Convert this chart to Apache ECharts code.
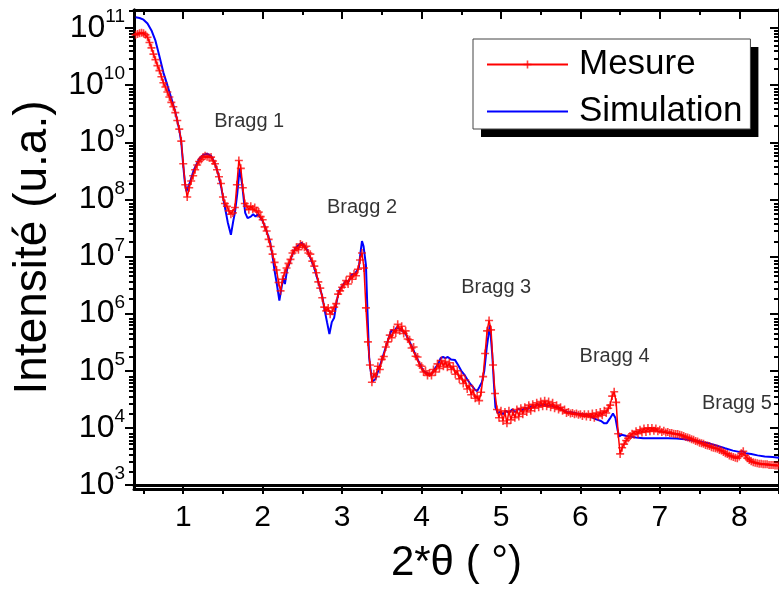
<!DOCTYPE html>
<html><head><meta charset="utf-8">
<script src="https://cdn.jsdelivr.net/npm/echarts@6/dist/echarts.min.js"></script>
<style>html,body{margin:0;padding:0;background:#fff}#c{width:779px;height:589px}</style>
</head><body><div id="c"></div>
<script>
// 2*theta (deg), intensity (a.u.) — measured
const measurement = [
[0.400,7.6e10],[0.425,7.9e10],[0.450,8.1e10],[0.475,8.3e10],[0.500,8.1e10],[0.525,7.6e10],[0.550,6.9e10],[0.575,5.6e10],[0.600,4.5e10],[0.625,3.5e10],[0.650,2.8e10],[0.675,2.2e10],[0.700,1.8e10],[0.725,1.4e10],[0.750,1.1e10],[0.775,9.3e9],[0.800,7.6e9],[0.825,6.2e9],[0.850,5.0e9],[0.875,4.2e9],[0.900,3.3e9],[0.925,2.4e9],[0.950,1.7e9],[0.975,1.05e9],
[1.000,4.2e8],[1.025,1.8e8],[1.050,1.1e8],[1.075,1.6e8],[1.100,2.1e8],[1.125,2.6e8],[1.150,3.3e8],[1.175,4.0e8],[1.200,4.6e8],[1.225,5.0e8],[1.250,5.5e8],[1.275,5.8e8],[1.300,5.6e8],[1.325,5.4e8],[1.350,5.5e8],[1.375,4.7e8],[1.400,4.2e8],[1.425,3.3e8],[1.450,2.5e8],[1.475,1.9e8],[1.500,1.1e8],[1.525,8.5e7],[1.550,7.6e7],[1.575,6.3e7],[1.600,5.5e7],[1.625,5.8e7],[1.650,7.2e7],[1.675,1.8e8],[1.700,4.8e8],[1.725,3.5e8],[1.750,1.6e8],[1.775,8.5e7],[1.800,7.6e7],[1.825,6.6e7],[1.850,7.6e7],[1.875,6.8e7],[1.900,7.2e7],[1.925,6.3e7],[1.950,6.0e7],[1.975,5.0e7],
[2.000,4.4e7],[2.025,3.3e7],[2.050,2.8e7],[2.075,2.0e7],[2.100,1.5e7],[2.125,1.1e7],[2.150,7.9e6],[2.175,5.8e6],[2.200,3.5e6],[2.225,2.5e6],[2.250,4.0e6],[2.275,5.2e6],[2.300,6.3e6],[2.325,7.6e6],[2.350,8.9e6],[2.375,1.15e7],[2.400,1.26e7],[2.425,1.45e7],[2.450,1.32e7],[2.475,1.66e7],[2.500,1.58e7],[2.525,1.45e7],[2.550,1.51e7],[2.575,1.15e7],[2.600,1.1e7],[2.625,8.3e6],[2.650,6.8e6],[2.675,5.2e6],[2.700,3.6e6],[2.725,2.8e6],[2.750,1.9e6],[2.775,1.3e6],[2.800,1.12e6],[2.825,1.26e6],[2.850,9.8e5],[2.875,1.1e6],[2.900,1.3e6],[2.925,1.5e6],[2.950,2.2e6],[2.975,2.5e6],
[3.000,2.9e6],[3.025,3.2e6],[3.050,3.8e6],[3.075,3.3e6],[3.100,4.5e6],[3.125,4.0e6],[3.150,5.0e6],[3.175,4.6e6],[3.200,6.0e6],[3.225,8.7e6],[3.250,1.15e7],[3.275,6.3e6],[3.300,1.26e6],[3.325,3.2e5],[3.350,1.26e5],[3.375,6.3e4],[3.400,8.9e4],[3.425,7.9e4],[3.450,1.2e5],[3.475,1.05e5],[3.500,1.58e5],[3.525,1.78e5],[3.550,2.6e5],[3.575,3.2e5],[3.600,4.2e5],[3.625,3.8e5],[3.650,5.2e5],[3.675,4.6e5],[3.700,6.5e5],[3.725,5.0e5],[3.750,6.0e5],[3.775,4.5e5],[3.800,5.0e5],[3.825,3.6e5],[3.850,3.5e5],[3.875,2.5e5],[3.900,2.6e5],[3.925,1.8e5],[3.950,1.74e5],[3.975,1.26e5],
[4.000,1.2e5],[4.025,9.5e4],[4.050,1.0e5],[4.075,8.3e4],[4.100,9.1e4],[4.125,8.3e4],[4.150,1.05e5],[4.175,9.5e4],[4.200,1.32e5],[4.225,1.1e5],[4.250,1.51e5],[4.275,1.2e5],[4.300,1.45e5],[4.325,1.15e5],[4.350,1.38e5],[4.375,1.05e5],[4.400,1.2e5],[4.425,8.7e4],[4.450,1.0e5],[4.475,7.2e4],[4.500,8.3e4],[4.525,6.0e4],[4.550,6.9e4],[4.575,4.8e4],[4.600,5.5e4],[4.625,3.8e4],[4.650,4.6e4],[4.675,3.3e4],[4.700,3.6e4],[4.725,3.0e4],[4.750,4.2e4],[4.775,7.9e4],[4.800,2.0e5],[4.825,5.0e5],[4.850,7.6e5],[4.875,5.2e5],[4.900,1.26e5],[4.925,4.0e4],[4.950,2.1e4],[4.975,1.5e4],
[5.000,2.0e4],[5.025,1.32e4],[5.050,1.9e4],[5.075,1.2e4],[5.100,2.0e4],[5.125,1.38e4],[5.150,1.9e4],[5.175,1.5e4],[5.200,2.1e4],[5.225,1.58e4],[5.250,2.2e4],[5.275,1.74e4],[5.300,2.3e4],[5.325,1.9e4],[5.350,2.5e4],[5.375,2.0e4],[5.400,2.6e4],[5.425,2.2e4],[5.450,2.75e4],[5.475,2.3e4],[5.500,2.9e4],[5.525,2.4e4],[5.550,3.0e4],[5.575,2.4e4],[5.600,2.9e4],[5.625,2.3e4],[5.650,2.75e4],[5.675,2.2e4],[5.700,2.5e4],[5.725,2.1e4],[5.750,2.3e4],[5.775,2.0e4],[5.800,2.1e4],[5.825,1.82e4],[5.850,1.9e4],[5.875,1.78e4],[5.900,1.82e4],[5.925,1.74e4],[5.950,1.78e4],[5.975,1.7e4],
[6.000,1.74e4],[6.025,1.62e4],[6.050,1.74e4],[6.075,1.58e4],[6.100,1.74e4],[6.125,1.55e4],[6.150,1.78e4],[6.175,1.51e4],[6.200,1.82e4],[6.225,1.58e4],[6.250,1.9e4],[6.275,1.66e4],[6.300,2.0e4],[6.325,1.82e4],[6.350,2.2e4],[6.375,2.5e4],[6.400,3.6e4],[6.425,4.3e4],[6.450,2.8e4],[6.475,7.9e3],[6.500,3.5e3],[6.525,4.5e3],[6.550,5.2e3],[6.575,6.0e3],[6.600,6.6e3],[6.625,7.2e3],[6.650,7.9e3],[6.675,7.6e3],[6.700,8.7e3],[6.725,7.9e3],[6.750,9.3e3],[6.775,8.3e3],[6.800,9.8e3],[6.825,8.5e3],[6.850,1.0e4],[6.875,8.7e3],[6.900,1.0e4],[6.925,8.9e3],[6.950,9.8e3],[6.975,8.7e3],
[7.000,9.3e3],[7.025,8.5e3],[7.050,8.9e3],[7.075,8.3e3],[7.100,8.5e3],[7.125,8.1e3],[7.150,8.1e3],[7.175,7.9e3],[7.200,7.8e3],[7.225,7.8e3],[7.250,7.6e3],[7.275,7.4e3],[7.300,7.2e3],[7.325,6.9e3],[7.350,6.8e3],[7.375,6.6e3],[7.400,6.3e3],[7.425,6.2e3],[7.450,5.9e3],[7.475,5.75e3],[7.500,5.5e3],[7.525,5.4e3],[7.550,5.25e3],[7.575,5.0e3],[7.600,4.9e3],[7.625,4.8e3],[7.650,4.6e3],[7.675,4.5e3],[7.700,4.4e3],[7.725,4.3e3],[7.750,4.1e3],[7.775,4.0e3],[7.800,3.8e3],[7.825,3.6e3],[7.850,3.5e3],[7.875,3.3e3],[7.900,3.2e3],[7.925,3.1e3],[7.950,3.0e3],[7.975,2.95e3],
[8.000,3.16e3],[8.025,3.6e3],[8.050,3.9e3],[8.075,3.3e3],[8.100,2.95e3],[8.125,2.75e3],[8.150,2.6e3],[8.175,2.5e3],[8.200,2.45e3],[8.225,2.4e3],[8.250,2.35e3],[8.275,2.35e3],[8.300,2.3e3],[8.325,2.3e3],[8.350,2.3e3],[8.375,2.25e3],[8.400,2.25e3],[8.425,2.25e3],[8.450,2.2e3],[8.475,2.2e3],[8.500,2.2e3]
];

// 2*theta (deg), intensity (a.u.) — simulated
const simulation = [
[0.40,1.55e11],[0.45,1.5e11],[0.50,1.4e11],[0.55,1.2e11],[0.60,9.1e10],[0.65,6.0e10],[0.70,3.2e10],[0.75,1.66e10],[0.80,1.0e10],[0.85,5.9e9],[0.90,3.4e9],[0.95,1.66e9],[0.975,1.0e9],
[1.00,3.9e8],[1.02,2.0e8],[1.04,1.38e8],[1.08,1.9e8],[1.13,3.2e8],[1.20,5.1e8],[1.25,6.0e8],[1.30,6.3e8],[1.35,5.8e8],[1.40,4.2e8],[1.44,2.8e8],[1.48,1.58e8],[1.52,7.9e7],[1.56,4.0e7],[1.60,2.4e7],[1.63,4.2e7],[1.65,5.8e7],[1.68,1.26e8],[1.71,3.5e8],[1.74,1.9e8],[1.78,5.8e7],[1.81,4.7e7],[1.85,5.0e7],[1.88,5.5e7],[1.91,5.0e7],[1.94,5.5e7],
[2.00,4.2e7],[2.05,2.75e7],[2.09,1.86e7],[2.12,1.12e7],[2.15,5.6e6],[2.18,3.2e6],[2.21,1.7e6],[2.24,3.0e6],[2.26,4.2e6],[2.28,3.3e6],[2.31,6.3e6],[2.33,7.1e6],[2.37,1.05e7],[2.41,1.4e7],[2.45,1.58e7],[2.49,1.74e7],[2.53,1.51e7],[2.56,1.3e7],[2.60,9.5e6],[2.65,6.3e6],[2.71,3.2e6],[2.75,2.0e6],[2.78,1.15e6],[2.81,7.1e5],[2.84,4.4e5],[2.87,7.1e5],[2.90,8.5e5],[2.93,1.58e6],[2.96,2.5e6],
[3.00,3.0e6],[3.05,3.8e6],[3.08,3.6e6],[3.12,4.8e6],[3.16,5.0e6],[3.21,6.3e6],[3.23,1.12e7],[3.25,1.86e7],[3.27,1.51e7],[3.30,7.1e6],[3.32,1.0e6],[3.34,1.74e5],[3.36,1.0e5],[3.38,6.5e4],[3.42,7.2e4],[3.46,1.05e5],[3.50,1.55e5],[3.55,2.6e5],[3.58,3.5e5],[3.62,5.1e5],[3.66,5.0e5],[3.69,5.8e5],[3.74,5.2e5],[3.80,4.4e5],[3.86,3.0e5],[3.92,1.95e5],[3.97,1.38e5],
[4.02,1.0e5],[4.07,9.1e4],[4.12,8.5e4],[4.17,1.1e5],[4.21,1.32e5],[4.24,1.66e5],[4.27,1.74e5],[4.30,1.66e5],[4.33,1.74e5],[4.37,1.58e5],[4.42,1.55e5],[4.46,1.26e5],[4.50,1.0e5],[4.54,8.5e4],[4.58,6.9e4],[4.62,5.75e4],[4.67,4.7e4],[4.70,4.4e4],[4.73,5.25e4],[4.76,6.3e4],[4.79,1.0e5],[4.82,2.5e5],[4.86,6.3e5],[4.89,1.95e5],[4.91,6.3e4],[4.93,2.3e4],[4.96,1.82e4],[4.99,1.9e4],
[5.03,1.74e4],[5.06,2.0e4],[5.10,1.82e4],[5.14,2.1e4],[5.18,1.9e4],[5.22,2.15e4],[5.26,2.0e4],[5.30,2.25e4],[5.34,2.15e4],[5.38,2.4e4],[5.42,2.3e4],[5.46,2.6e4],[5.50,2.45e4],[5.54,2.6e4],[5.58,2.4e4],[5.62,2.5e4],[5.67,2.35e4],[5.72,2.3e4],[5.78,2.05e4],[5.83,1.9e4],[5.90,1.86e4],[5.96,1.78e4],
[6.02,1.74e4],[6.08,1.7e4],[6.14,1.55e4],[6.20,1.41e4],[6.26,1.32e4],[6.30,1.2e4],[6.33,1.2e4],[6.37,1.45e4],[6.41,1.78e4],[6.44,1.51e4],[6.47,8.9e3],[6.49,7.1e3],[6.52,7.6e3],[6.54,7.8e3],[6.58,7.2e3],[6.61,7.1e3],[6.70,6.8e3],[6.79,6.6e3],[6.90,6.6e3],
[7.00,6.6e3],[7.10,6.6e3],[7.21,6.5e3],[7.31,6.3e3],[7.41,6.0e3],[7.51,5.75e3],[7.61,5.4e3],[7.71,4.9e3],[7.82,4.4e3],[7.92,4.0e3],[8.00,3.8e3],[8.04,3.9e3],[8.08,3.6e3],[8.15,3.5e3],[8.23,3.3e3],[8.32,3.16e3],[8.42,3.1e3],[8.50,3.0e3]
];

const seriesNames = ['Mesure', 'Simulation'];
const xMajorTicks = [1, 2, 3, 4, 5, 6, 7, 8];
const xMinorTicks = [0.5, 1.5, 2.5, 3.5, 4.5, 5.5, 6.5, 7.5, 8.5];
const yMajorTicks = [1e3, 1e4, 1e5, 1e6, 1e7, 1e8, 1e9, 1e10, 1e11];
const yMinorMultipliers = [2, 3, 4, 5, 6, 7, 8, 9];
const braggAnnotations = [
  { text: 'Bragg 1', x: 1.83, y: 2.3e9 },
  { text: 'Bragg 2', x: 3.25, y: 7.2e7 },
  { text: 'Bragg 3', x: 4.94, y: 2.85e6 },
  { text: 'Bragg 4', x: 6.43, y: 1.8e5 },
  { text: 'Bragg 5', x: 7.97, y: 2.65e4 }
];

const X_MIN = 0.38, X_MAX = 8.5, Y_MIN = 1e3, Y_MAX = 2.07e11;
const FONT = '"Liberation Sans", Arial, sans-serif';
const yMinorTicks = [];
yMajorTicks.forEach(function (m) { yMinorMultipliers.forEach(function (k) { if (m * k < Y_MAX) yMinorTicks.push(m * k); }); });

const plusPath = 'path://M4,0H6V4H10V6H6V10H4V6H0V4H4Z';
const lineStyleAxis = { color: '#000', width: 3 };

function xAxisDef(grid, pos, ticks, len, inside, labels) {
  return {
    type: 'value', gridIndex: grid, position: pos, min: X_MIN, max: X_MAX,
    axisLine: { show: true, onZero: false, lineStyle: lineStyleAxis },
    axisTick: { show: true, inside: inside, length: len, customValues: ticks, lineStyle: { color: '#000', width: 2 } },
    axisLabel: labels ? { show: true, customValues: ticks, margin: 18, color: '#000', fontSize: 30, fontFamily: FONT } : { show: false },
    splitLine: { show: false }, minorTick: { show: false }
  };
}
function yAxisDef(grid, pos, ticks, len, inside, labels) {
  return {
    type: 'log', logBase: 10, gridIndex: grid, position: pos, min: Y_MIN, max: Y_MAX,
    axisLine: { show: true, onZero: false, lineStyle: lineStyleAxis },
    axisTick: { show: true, inside: inside, length: len, customValues: ticks, lineStyle: { color: '#000', width: 2 } },
    axisLabel: labels ? {
      show: true, customValues: ticks, margin: 9, color: '#000', fontFamily: FONT,
      formatter: function (v) { return '{b|10}{s|' + Math.round(Math.log10(v)) + '}'; },
      rich: { b: { fontSize: 32, fontFamily: FONT, color: '#000' }, s: { fontSize: 19, fontFamily: FONT, color: '#000', padding: [0, 0, 22, 0] } }
    } : { show: false },
    splitLine: { show: false }, minorTick: { show: false }
  };
}

const chart = echarts.init(document.getElementById('c'), null, { renderer: 'canvas' });
const xMain = xAxisDef(0, 'bottom', xMajorTicks, 9, false, true);
xMain.name = '2*\u03b8 ( \u00b0)';
xMain.nameLocation = 'middle';
xMain.nameGap = 57;
xMain.nameTextStyle = { fontSize: 42, color: '#000', fontFamily: FONT };
const yMain = yAxisDef(0, 'left', yMajorTicks, 9, false, true);
yMain.name = 'Intensit\u00e9 (u.a.)';
yMain.nameLocation = 'middle';
yMain.nameGap = 78;
yMain.nameTextStyle = { fontSize: 46, color: '#000', fontFamily: FONT };

const legendLayout = {
  orient: 'vertical', left: 473, top: 39,
  padding: [8, 8, 0, 13], itemGap: 12, itemWidth: 81, itemHeight: 10,
  borderRadius: 0, selectedMode: false
};
const legendText = { fontSize: 35, fontFamily: FONT, padding: [0, 0, 0, 6] };

chart.setOption({
  animation: false,
  backgroundColor: '#fff',
  grid: [
    { left: 134, top: 10, width: 650, height: 479, containLabel: false },
    { left: 134, top: 10, width: 650, height: 479, containLabel: false }
  ],
  legend: [
    Object.assign({}, legendLayout, {
      data: seriesNames, z: 5,
      backgroundColor: '#fff', borderWidth: 0,
      shadowColor: '#000', shadowBlur: 0, shadowOffsetX: 8, shadowOffsetY: 8,
      itemStyle: { opacity: 0 }, lineStyle: { opacity: 0 },
      textStyle: Object.assign({ color: 'rgba(0,0,0,0)' }, legendText)
    }),
    Object.assign({}, legendLayout, {
      data: [{ name: 'Mesure' }, { name: 'Simulation', itemStyle: { opacity: 0 } }], z: 6,
      backgroundColor: 'rgba(0,0,0,0)', borderColor: '#444', borderWidth: 1,
      textStyle: Object.assign({ color: '#000' }, legendText)
    })
  ],
  xAxis: [
    xMain,
    xAxisDef(0, 'top', xMajorTicks, 9, true, false),
    xAxisDef(1, 'bottom', xMinorTicks, 5, false, false),
    xAxisDef(1, 'top', xMinorTicks, 5, true, false)
  ],
  yAxis: [
    yMain,
    yAxisDef(0, 'right', yMajorTicks, 9, true, false),
    yAxisDef(1, 'left', yMinorTicks, 5, false, false),
    yAxisDef(1, 'right', yMinorTicks, 5, true, false)
  ],
  series: [
    {
      name: 'Simulation', type: 'line', xAxisIndex: 0, yAxisIndex: 0, data: simulation,
      showSymbol: false, symbol: 'none', smooth: false, z: 2,
      lineStyle: { color: '#0000ff', width: 2 }, itemStyle: { color: '#0000ff' }
    },
    {
      name: 'Mesure', type: 'line', xAxisIndex: 0, yAxisIndex: 0, data: measurement,
      symbol: plusPath, symbolSize: 8, showSymbol: true, showAllSymbol: true, smooth: false, z: 3,
      lineStyle: { color: '#ff0000', width: 1.5 }, itemStyle: { color: 'rgba(255,0,0,0.75)' }
    },
    {
      name: 'annotations', type: 'scatter', xAxisIndex: 0, yAxisIndex: 0, silent: true, z: 4,
      symbolSize: 1, itemStyle: { color: 'transparent' },
      label: { show: true, position: 'inside', formatter: '{b}', fontSize: 20, color: '#000', fontFamily: FONT },
      data: braggAnnotations.map(function (a) { return { name: a.text, value: [a.x, a.y] }; })
    }
  ]
});
</script></body></html>
